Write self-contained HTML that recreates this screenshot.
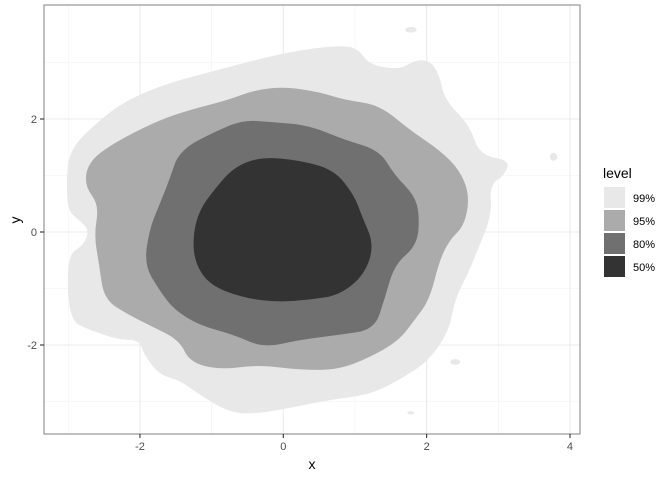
<!DOCTYPE html>
<html><head><meta charset="utf-8"><style>
html,body{margin:0;padding:0;background:#fff;width:672px;height:480px;overflow:hidden}
text{font-family:"Liberation Sans",sans-serif}
</style></head><body>
<svg id="chart" width="672" height="480" viewBox="0 0 672 480" xmlns="http://www.w3.org/2000/svg">
<rect width="672" height="480" fill="#fff"/>
<g id="grid"></g>
<g id="contours"></g>
<rect x="44" y="5" width="536" height="429" fill="none" stroke="#8a8a8a" stroke-width="1.1"/>
<g id="axes"></g>
<text x="312" y="469" font-size="14" text-anchor="middle" fill="#000">x</text>
<text x="20" y="220" font-size="14" text-anchor="middle" fill="#000" transform="rotate(-90 20 220)">y</text>
<g id="legend">
<text x="603" y="178" font-size="14" fill="#000">level</text>
</g>
</svg>
<script>
const levels = ["99%","95%","80%","50%"];
const levelColors = ["#e8e8e8","#ababab","#707070","#333333"];
const xTicks = [-2,0,2,4];
const yTicks = [-2,0,2];
const xMinor = [-3,-1,1,3];
const yMinor = [-3,-1,1,3];
const c99 = [[0.22,3.22],[0.85,3.31],[1.06,3.22],[1.2,2.96],[1.62,2.87],[1.83,3.04],[2.04,3.04],[2.18,2.78],[2.25,2.34],[2.6,1.89],[2.74,1.36],[3.16,1.27],[3.09,1.01],[2.88,0.83],[2.91,0.3],[2.71,-0.32],[2.6,-0.67],[2.39,-1.2],[2.32,-1.73],[2.04,-2.27],[1.62,-2.62],[1.2,-2.88],[0.64,-2.97],[0.08,-3.12],[-0.41,-3.22],[-0.76,-3.19],[-1.17,-2.88],[-1.45,-2.62],[-1.73,-2.53],[-1.94,-2.18],[-2.01,-1.91],[-2.29,-1.91],[-2.71,-1.73],[-2.99,-1.56],[-3.02,-0.41],[-2.78,-0.23],[-2.71,0.04],[-2.85,0.21],[-3.02,0.39],[-3.02,1.19],[-2.92,1.54],[-2.64,1.89],[-2.29,2.25],[-1.87,2.51],[-1.45,2.69],[-0.9,2.87],[-0.41,3.04]];
const c95 = [[0.01,2.57],[0.5,2.48],[0.85,2.34],[1.34,2.25],[1.76,1.81],[2.18,1.45],[2.46,1.1],[2.6,0.65],[2.53,0.12],[2.32,-0.14],[2.18,-0.5],[2.04,-1.2],[1.83,-1.56],[1.62,-1.91],[1.27,-2.18],[0.78,-2.44],[0.22,-2.44],[-0.34,-2.35],[-0.9,-2.44],[-1.31,-2.3],[-1.45,-1.91],[-1.87,-1.65],[-2.15,-1.47],[-2.5,-1.2],[-2.57,-0.58],[-2.64,-0.05],[-2.57,0.48],[-2.78,0.83],[-2.71,1.27],[-2.29,1.63],[-1.73,1.98],[-1.31,2.16],[-0.76,2.34],[-0.41,2.51]];
const c80 = [[-0.2,1.95],[0.36,1.89],[0.85,1.63],[1.34,1.45],[1.55,1.01],[1.83,0.65],[1.9,0.3],[1.87,-0.23],[1.55,-0.58],[1.41,-1.2],[1.27,-1.73],[0.78,-1.82],[0.22,-1.91],[-0.27,-2.05],[-0.69,-1.82],[-1.17,-1.65],[-1.52,-1.38],[-1.73,-1.03],[-1.94,-0.58],[-1.87,0.04],[-1.73,0.48],[-1.59,0.92],[-1.45,1.45],[-0.9,1.81],[-0.55,1.98]];
const c50 = [[-0.31,1.33],[0.22,1.27],[0.71,1.1],[0.99,0.65],[1.09,0.3],[1.27,-0.23],[1.13,-0.76],[0.78,-1.12],[0.36,-1.2],[-0.06,-1.24],[-0.55,-1.17],[-1.03,-0.94],[-1.24,-0.53],[-1.26,-0.05],[-1.17,0.39],[-0.97,0.74],[-0.69,1.15]];
const blobs99 = [[1.78,3.58,0.08,0.05],[3.77,1.33,0.05,0.07],[2.4,-2.3,0.07,0.05],[1.78,-3.2,0.05,0.03]];

const X0=44,X1=580,Y0=5,Y1=434;
function sx(v){return 283.3+v*71.67;}
function sy(v){return 232-v*56.5;}
const NS="http://www.w3.org/2000/svg";
function mk(tag,attrs,parent){const e=document.createElementNS(NS,tag);for(const k in attrs)e.setAttribute(k,attrs[k]);parent.appendChild(e);return e;}
const grid=document.getElementById('grid');
xMinor.forEach(v=>{const l=mk('line',{x1:sx(v),x2:sx(v),y1:Y0,y2:Y1,stroke:'#f2f2f2','stroke-width':0.6},grid);

});
yMinor.forEach(v=>{const l=mk('line',{x1:X0,x2:X1,y1:sy(v),y2:sy(v),stroke:'#f2f2f2','stroke-width':0.6},grid);

});
xTicks.forEach(v=>{const l=mk('line',{x1:sx(v),x2:sx(v),y1:Y0,y2:Y1,stroke:'#ebebeb','stroke-width':1.1},grid);

});
yTicks.forEach(v=>{const l=mk('line',{x1:X0,x2:X1,y1:sy(v),y2:sy(v),stroke:'#ebebeb','stroke-width':1.1},grid);

});

function smoothPath(pts){
  const p=pts.map(d=>[sx(d[0]),sy(d[1])]);const n=p.length;let s='';
  for(let i=0;i<n;i++){const a=p[i],b=p[(i+1)%n];const m=[(a[0]+b[0])/2,(a[1]+b[1])/2];
    if(i===0){const z=p[n-1];s+='M'+((z[0]+a[0])/2)+','+((z[1]+a[1])/2);}
    s+=' Q'+a[0]+','+a[1]+' '+m[0]+','+m[1];}
  return s+'Z';}
const cg=document.getElementById('contours');
const polys=[c99,c95,c80,c50];
polys.forEach((pts,i)=>{const e=mk('path',{d:smoothPath(pts),fill:levelColors[i]},cg);

});
blobs99.forEach(b=>{const e=mk('ellipse',{cx:sx(b[0]),cy:sy(b[1]),rx:b[2]*71.67,ry:b[3]*56.5,fill:levelColors[0]},cg);

});

const ax=document.getElementById('axes');
xTicks.forEach(v=>{const t=mk('line',{x1:sx(v),x2:sx(v),y1:Y1,y2:Y1+4,stroke:'#333','stroke-width':1.1},ax);


const l=mk('text',{x:sx(v),y:Y1+16,'font-size':11,'text-anchor':'middle',fill:'#4d4d4d'},ax);l.textContent=v;

});
yTicks.forEach(v=>{const t=mk('line',{x1:X0-4,x2:X0,y1:sy(v),y2:sy(v),stroke:'#333','stroke-width':1.1},ax);


const l=mk('text',{x:X0-7,y:sy(v)+4,'font-size':11,'text-anchor':'end',fill:'#4d4d4d'},ax);l.textContent=v;

});

const lg=document.getElementById('legend');
levels.forEach((lv,i)=>{const y=187+i*23;
const r=mk('rect',{x:604,y:y,width:21,height:21,fill:levelColors[i]},lg);


const t=mk('text',{x:633,y:y+15,'font-size':11,fill:'#000'},lg);t.textContent=lv;

});
</script>
</body></html>
